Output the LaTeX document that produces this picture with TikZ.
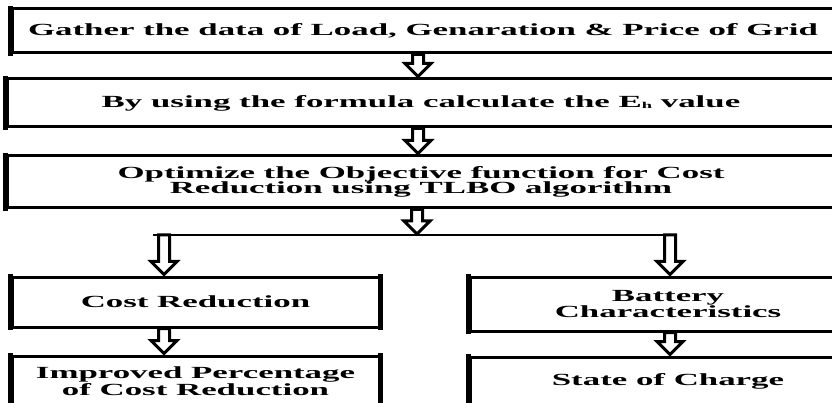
\documentclass[tikz,border=0pt]{standalone}
\usepackage{fontspec}
\setmainfont{Liberation Serif}[FakeStretch=2.05]
\usetikzlibrary{calc}
\tikzset{
  flowbox/.style={draw, line width=3pt, inner sep=0pt, align=center,
    font=\bfseries\fontsize{17}{15.5}\selectfont,
    % heavier vertical sides
    append after command={\pgfextra{\let\mainnode=\tikzlastnode}
      ([yshift=1.5pt]\mainnode.north west) edge[line width=5.5pt] ([yshift=-1.5pt]\mainnode.south west)
      ([yshift=1.5pt]\mainnode.north east) edge[line width=5.5pt] ([yshift=-1.5pt]\mainnode.south east)}},
  % outlined block arrow pointing down, from start point to target level
  hollowarrow/.style={draw, line width=3pt, fill=white, line join=miter,
    to path={let \p1=(\tikztostart), \p2=(\tikztotarget) in
      ({\x1-5.5pt},\y1) -- ({\x1-5.5pt},{\y2+14pt}) -- ({\x1-13pt},{\y2+14pt})
      -- (\x1,{\y2+1pt}) -- ({\x1+13pt},{\y2+14pt}) -- ({\x1+5.5pt},{\y2+14pt})
      -- ({\x1+5.5pt},\y1) -- cycle}},
  branchline/.style={line width=2.8pt},
}
\begin{document}
\begin{tikzpicture}[x=1pt,y=-1pt]
\useasboundingbox (0,0) rectangle (832,403);
\fill[white] (0,0) rectangle (832,403);
\clip (0,0) rectangle (832,403);

% process boxes
\node[flowbox, minimum width=822pt, minimum height=44pt] (gather) at (423,31)
  {Gather the data of Load, Genaration \& Price of Grid};
\node[flowbox, minimum width=828pt, minimum height=48pt] (formula) at (421,103)
  {By using the formula calculate the E\raisebox{-1pt}{\fontsize{9}{9}\selectfont h} value};
\node[flowbox, minimum width=828pt, minimum height=52pt] (optim) at (421,182)
  {Optimize the Objective function for Cost\\Reduction using TLBO algorithm};
\node[flowbox, minimum width=367pt, minimum height=50pt] (cost) at (195.5,302)
  {Cost Reduction};
\node[flowbox, minimum width=367pt, minimum height=50pt] (improved) at (195.5,381)
  {Improved Percentage\\of Cost Reduction};
\node[flowbox, minimum width=396pt, minimum height=54pt] (battery) at (668,304)
  {Battery\\Characteristics};
\node[flowbox, minimum width=396pt, minimum height=48pt] (soc) at (668,381)
  {\raisebox{3pt}{State of Charge}};

% reference points for the connectors
\coordinate (axis) at (418,0);
\coordinate (jm) at (417,235);
\coordinate (jl) at (164,235);
\coordinate (jr) at (670,235);

% branching line
\draw[branchline] ([xshift=-11pt]jl) -- ([xshift=7pt]jr);

% connectors
\path[hollowarrow] (axis |- gather.south) to (axis |- formula.north);
\path[hollowarrow] (axis |- formula.south) to (axis |- optim.north);
\path[hollowarrow] (jm |- optim.south) to (jm);
\path[hollowarrow] (jl) to (jl |- cost.north);
\path[hollowarrow] (jr) to (jr |- battery.north);
\path[hollowarrow] (jl |- cost.south) to (jl |- improved.north);
\path[hollowarrow] (jr |- battery.south) to (jr |- soc.north);
\end{tikzpicture}
\end{document}
